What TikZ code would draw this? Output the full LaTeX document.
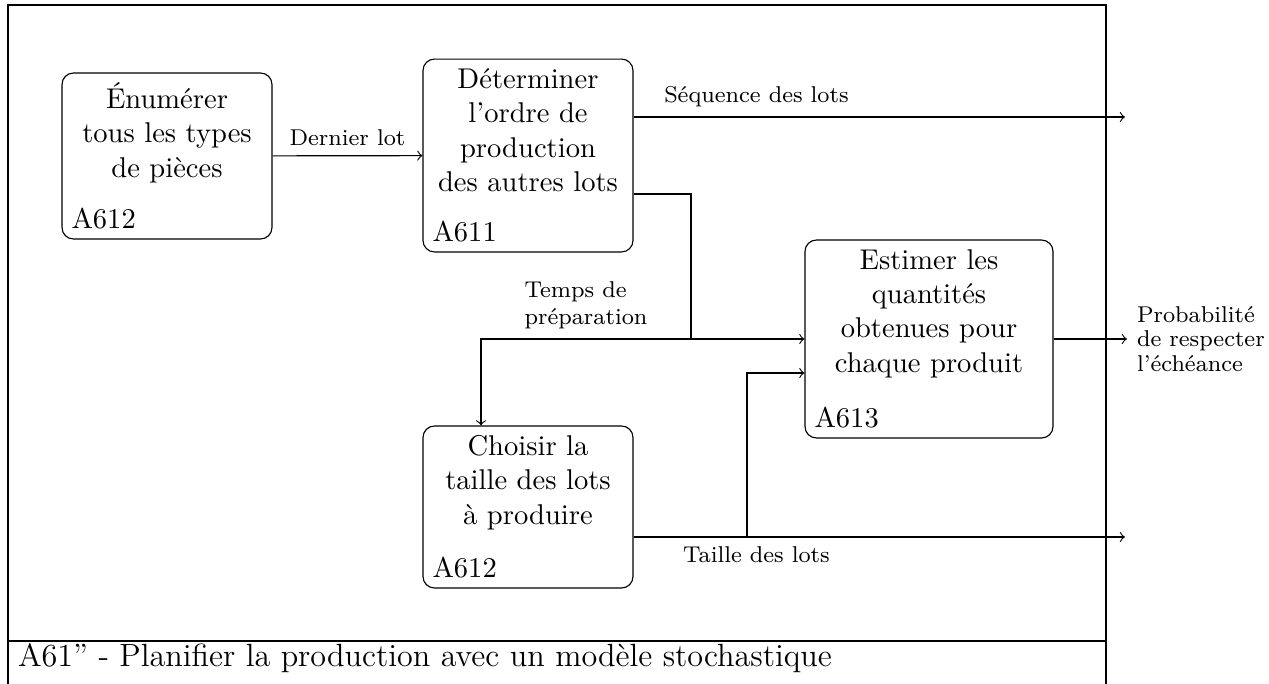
\documentclass[tikz,border=0pt]{standalone}
\usepackage{tikz}
\usetikzlibrary{calc}

\begin{document}
\begin{tikzpicture}[x=0.35pt,y=-0.35pt,
        activity/.style={draw,rounded corners,inner sep=0pt},
        acttext/.style={anchor=north,align=center},
        actid/.style={anchor=south west},
        flow/.style={->},
        lbl/.style={font=\footnotesize,align=left}]
            \useasboundingbox (0,0) rectangle (1269,684);
            % cadre et titre
            \draw (8,5) rectangle (1106,641);
            \draw (8,641) rectangle (1106,700);
            \node[anchor=base west,font=\fontsize{11.25}{13}\selectfont] (titre) at (8,666) {A61” - Planifier la production avec un modèle stochastique};
            % activites
            \node[activity,minimum width=73.5pt,minimum height=58.1pt] (enum) at (167,156) {};
            \node[acttext] (enumtxt) at (enum.north) {Énumérer\\tous les types\\de pièces};
            \node[actid] (enumid) at (enum.south west) {A612};
            \node[activity,minimum width=73.5pt,minimum height=67.5pt] (ordre) at (528,155.5) {};
            \node[acttext] (ordretxt) at (ordre.north) {Déterminer\\l’ordre de\\production\\des autres lots};
            \node[actid] (ordreid) at (ordre.south west) {A611};
            \node[activity,minimum width=86.8pt,minimum height=69.3pt] (estim) at (929,339) {};
            \node[acttext] (estimtxt) at (estim.north) {Estimer les\\quantités\\obtenues pour\\chaque produit};
            \node[actid] (estimid) at (estim.south west) {A613};
            \node[activity,minimum width=73.5pt,minimum height=56.7pt] (taille) at (528,507) {};
            \node[acttext] (tailletxt) at (taille.north) {Choisir la\\taille des lots\\à produire};
            \node[actid] (tailleid) at (taille.south west) {A612};
            % points de jonction
            \coordinate (seqout) at (1125,117);
            \coordinate (prepsplit) at (691,339);
            \coordinate (prepturn) at (481,339);
            \coordinate (tailleout) at (1125,537);
            \coordinate (taillesplit) at (747,537);
            \coordinate (probout) at (1127,339);
            % fleches
            \draw[flow] (enum) -- node[lbl,above] {Dernier lot} (ordre);
            \draw[flow] (seqout -| ordre.east) -- node[lbl,above,near start] {Séquence des lots} (seqout);
            \draw ($(ordre.east)+(0,38.5)$) -| (prepsplit);
            \draw[flow] (prepsplit) -- (estim.west);
            \draw[flow] (prepsplit) -- node[lbl,above] {Temps de\\préparation} (prepturn) -- (prepturn |- taille.north);
            \draw[flow] (tailleout -| taille.east) -- node[lbl,below,near start] {Taille des lots} (tailleout);
            \draw[flow] (taillesplit) |- ($(estim.west)+(0,34)$);
            \draw[flow] (estim.east) -- (probout) node[lbl,right,font=\fontsize{8}{8.7}\selectfont] (prob) {Probabilité\\de respecter\\l’échéance};
        \end{tikzpicture}
\end{document}
